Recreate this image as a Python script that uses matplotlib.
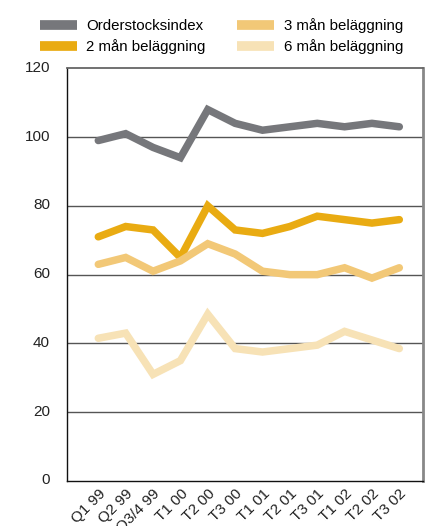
import matplotlib
matplotlib.use("Agg")
import matplotlib.pyplot as plt
import matplotlib.transforms as mtransforms
from matplotlib.lines import Line2D

plt.rcParams['font.family'] = ['Liberation Sans', 'DejaVu Sans']

categories = ["Q1 99", "Q2 99", "Q3/4 99", "T1 00", "T2 00", "T3 00",
              "T1 01", "T2 01", "T3 01", "T1 02", "T2 02", "T3 02"]
orderstock = [99, 101, 97, 94, 108, 104, 102, 103, 104, 103, 104, 103]
man2 = [71, 74, 73, 65, 80, 73, 72, 74, 77, 76, 75, 76]
man3 = [63, 65, 61, 64, 69, 66, 61, 60, 60, 62, 59, 62]
man6 = [41.5, 43, 31, 35, 48.5, 38.5, 37.5, 38.5, 39.5, 43.5, 41, 38.5]
yticks = [0, 20, 40, 60, 80, 100, 120]

series = [
    ("Orderstocksindex", orderstock, "#76777b"),
    ("2 mån beläggning", man2, "#e9ab12"),
    ("3 mån beläggning", man3, "#f2c877"),
    ("6 mån beläggning", man6, "#f7e2b6"),
]

fig = plt.figure(figsize=(4.32, 5.26), dpi=100)
ax = fig.add_axes([0.1544, 0.0856, 0.9785 - 0.1544, 0.8701 - 0.0856])

x = list(range(len(categories)))
for name, vals, col in series:
    ax.plot(x, vals, color=col, lw=5.4, solid_joinstyle='miter',
            solid_capstyle='round', zorder=3, label=name)

ax.set_ylim(0, 120)
ax.set_xlim(-1.155, 11.855)
ax.set_yticks(yticks)
ax.set_xticks(x)
ax.set_xticklabels(categories, rotation=45, ha='right', rotation_mode='anchor')
ax.tick_params(axis='both', length=0, labelsize=11, colors='#222222')
ax.tick_params(axis='y', pad=12)
ax.tick_params(axis='x', pad=4)

up = mtransforms.ScaledTranslation(0, 2 / 100, fig.dpi_scale_trans)
for lbl in ax.get_yticklabels():
    lbl.set_transform(lbl.get_transform() + up)

for v in [20, 40, 60, 80, 100]:
    ax.axhline(v, color='#555555', lw=1.0, zorder=1)

ax.spines['left'].set_color('#111111')
ax.spines['left'].set_linewidth(1.0)
ax.spines['bottom'].set_color('#111111')
ax.spines['bottom'].set_linewidth(1.0)
ax.spines['top'].set_color('#666666')
ax.spines['top'].set_linewidth(1.3)
ax.spines['right'].set_color('#888888')
ax.spines['right'].set_linewidth(2.0)

leg_handles = [Line2D([0], [0], color=c, lw=7, solid_capstyle='butt') for _, _, c in series]
fig.legend(leg_handles, [s[0] for s in series], ncol=2, frameon=False,
           loc='upper left', bbox_to_anchor=(40 / 432, 1 - 18 / 526), fontsize=10.8,
           handlelength=2.45, handletextpad=0.65, columnspacing=2.1,
           labelspacing=0.42, borderaxespad=0, borderpad=0)

fig.savefig("out.png", dpi=100)
